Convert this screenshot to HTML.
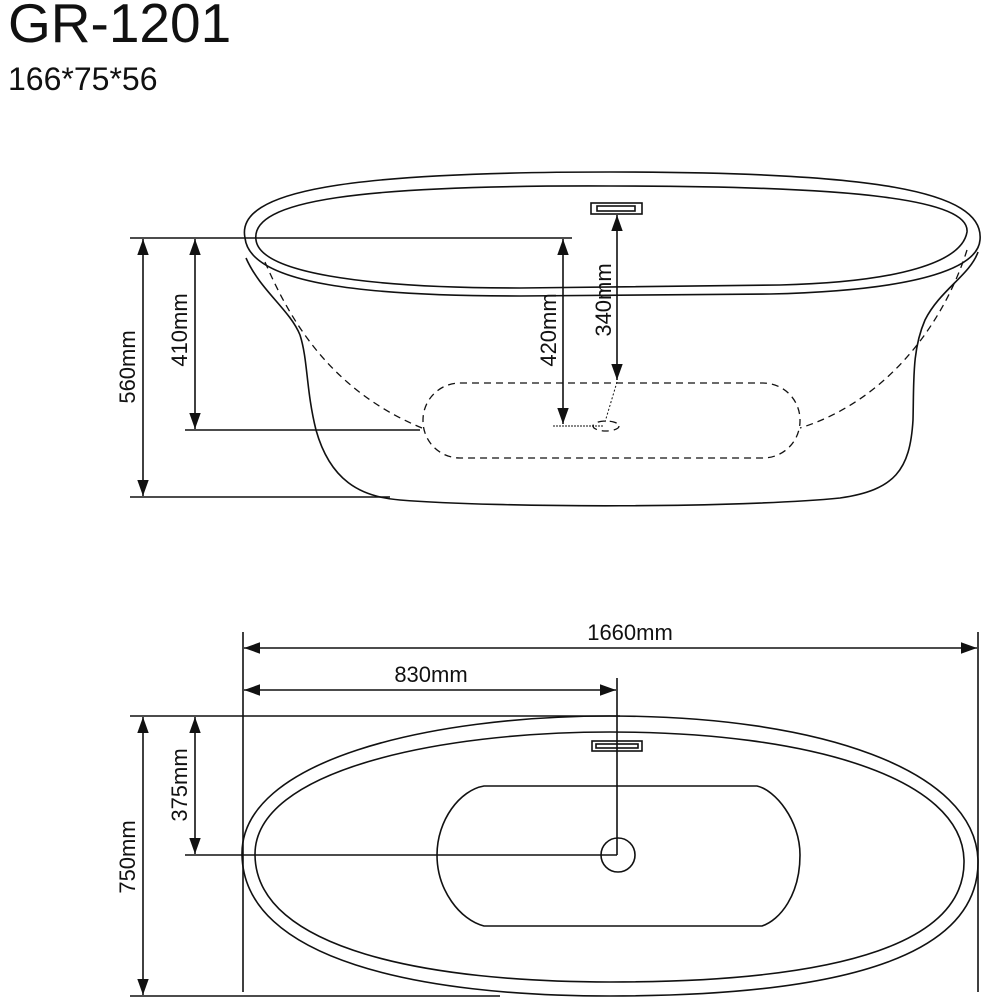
<!DOCTYPE html>
<html><head><style>
html,body{margin:0;padding:0;background:#fff;width:1000px;height:1000px;overflow:hidden}
svg{display:block}
text{font-family:"Liberation Sans",Arial,sans-serif;fill:#111}
</style></head><body>
<svg width="1000" height="1000" viewBox="0 0 1000 1000" xmlns="http://www.w3.org/2000/svg">
<defs>
<marker id="b" viewBox="0 0 14 10" refX="14" refY="5" markerWidth="16" markerHeight="12" markerUnits="userSpaceOnUse" orient="auto-start-reverse"><path d="M0,0 L14,5 L0,10 z" fill="#111"/></marker>
</defs>
<text x="8" y="42" font-size="55">GR-1201</text>
<text x="8" y="90" font-size="32">166*75*56</text>

<g fill="none" stroke="#111" stroke-width="1.6">
<!-- side view rim -->
<path d="M245,238 C235,190 350,172 610,172 C870,172 985,190 980,240 C978,265 930,290 770,294 L520,296 C370,296 250,285 245,238 Z"/>
<path d="M256,240 C250,200 360,185 610,186 C860,186 970,200 967,232 C962,262 900,282 780,285 L520,288 C360,288 260,272 256,240 Z"/>
<!-- body -->
<path d="M246,258 C260,290 290,310 300,335 C308,360 306,390 316,430 C330,480 360,497 400,500 C500,508 740,508 840,498 C895,490 910,470 913,420 C914,380 912,350 925,320 C940,290 970,275 978,252"/>
<!-- dashed -->
<g stroke-dasharray="7,5" stroke-width="1.3">
<path d="M265,262 C290,320 330,390 422,428"/>
<path d="M967,250 C945,320 890,400 800,428"/>
<rect x="423" y="383" width="377" height="75" rx="37" ry="37"/>
<ellipse cx="606" cy="426" rx="13" ry="5"/>
</g>
<path d="M617,382 L605,422" stroke-dasharray="2,2" stroke-width="1"/>
<path d="M553,426 L603,426" stroke-dasharray="2,1" stroke-width="1"/>
<!-- overflow -->
<rect x="591" y="203" width="51" height="11"/>
<rect x="597" y="206" width="38" height="5"/>
<!-- dimension lines side -->
<path d="M130,238 L572,238 M185,430 L420,430 M130,497 L390,497"/>
<path d="M143,239 L143,496" marker-start="url(#b)" marker-end="url(#b)"/>
<path d="M195,239 L195,429" marker-start="url(#b)" marker-end="url(#b)"/>
<path d="M563,239 L563,424" marker-start="url(#b)" marker-end="url(#b)"/>
<path d="M617,215 L617,380" marker-start="url(#b)" marker-end="url(#b)"/>

<!-- top view -->
<path d="M610,716 C820,716 975,770 978,860 C980,950 860,996 610,996 C420,996 244,960 242,855 C240,760 430,716 610,716 Z"/>
<path d="M610,732 C810,732 962,778 964,860 C966,940 850,982 610,982 C430,982 256,950 255,855 C254,770 440,732 610,732 Z"/>
<path d="M484,786 L757,786 C775,790 800,820 800,855 C800,895 780,920 762,926 L484,926 C460,920 437,890 437,855 C437,820 460,790 484,786 Z"/>
<ellipse cx="618" cy="855" rx="17" ry="17"/>
<rect x="592" y="741" width="50" height="10"/>
<rect x="596" y="744" width="42" height="4"/>
<path d="M243,632 L243,992 M978,632 L978,992 M617,678 L617,855 M130,716 L620,716 M185,855 L617,855 M130,996 L500,996"/>
<path d="M244,648 L977,648" marker-start="url(#b)" marker-end="url(#b)"/>
<path d="M244,690 L616,690" marker-start="url(#b)" marker-end="url(#b)"/>
<path d="M143,717 L143,995" marker-start="url(#b)" marker-end="url(#b)"/>
<path d="M195,717 L195,854" marker-start="url(#b)" marker-end="url(#b)"/>
</g>

<g font-size="22">
<text transform="translate(135,367) rotate(-90)" text-anchor="middle">560mm</text>
<text transform="translate(187,330) rotate(-90)" text-anchor="middle">410mm</text>
<text transform="translate(556,330) rotate(-90)" text-anchor="middle">420mm</text>
<text transform="translate(611,300) rotate(-90)" text-anchor="middle">340mm</text>
<text x="630" y="640" text-anchor="middle">1660mm</text>
<text x="431" y="682" text-anchor="middle">830mm</text>
<text transform="translate(135,857) rotate(-90)" text-anchor="middle">750mm</text>
<text transform="translate(187,785) rotate(-90)" text-anchor="middle">375mm</text>
</g>
</svg>
</body></html>
